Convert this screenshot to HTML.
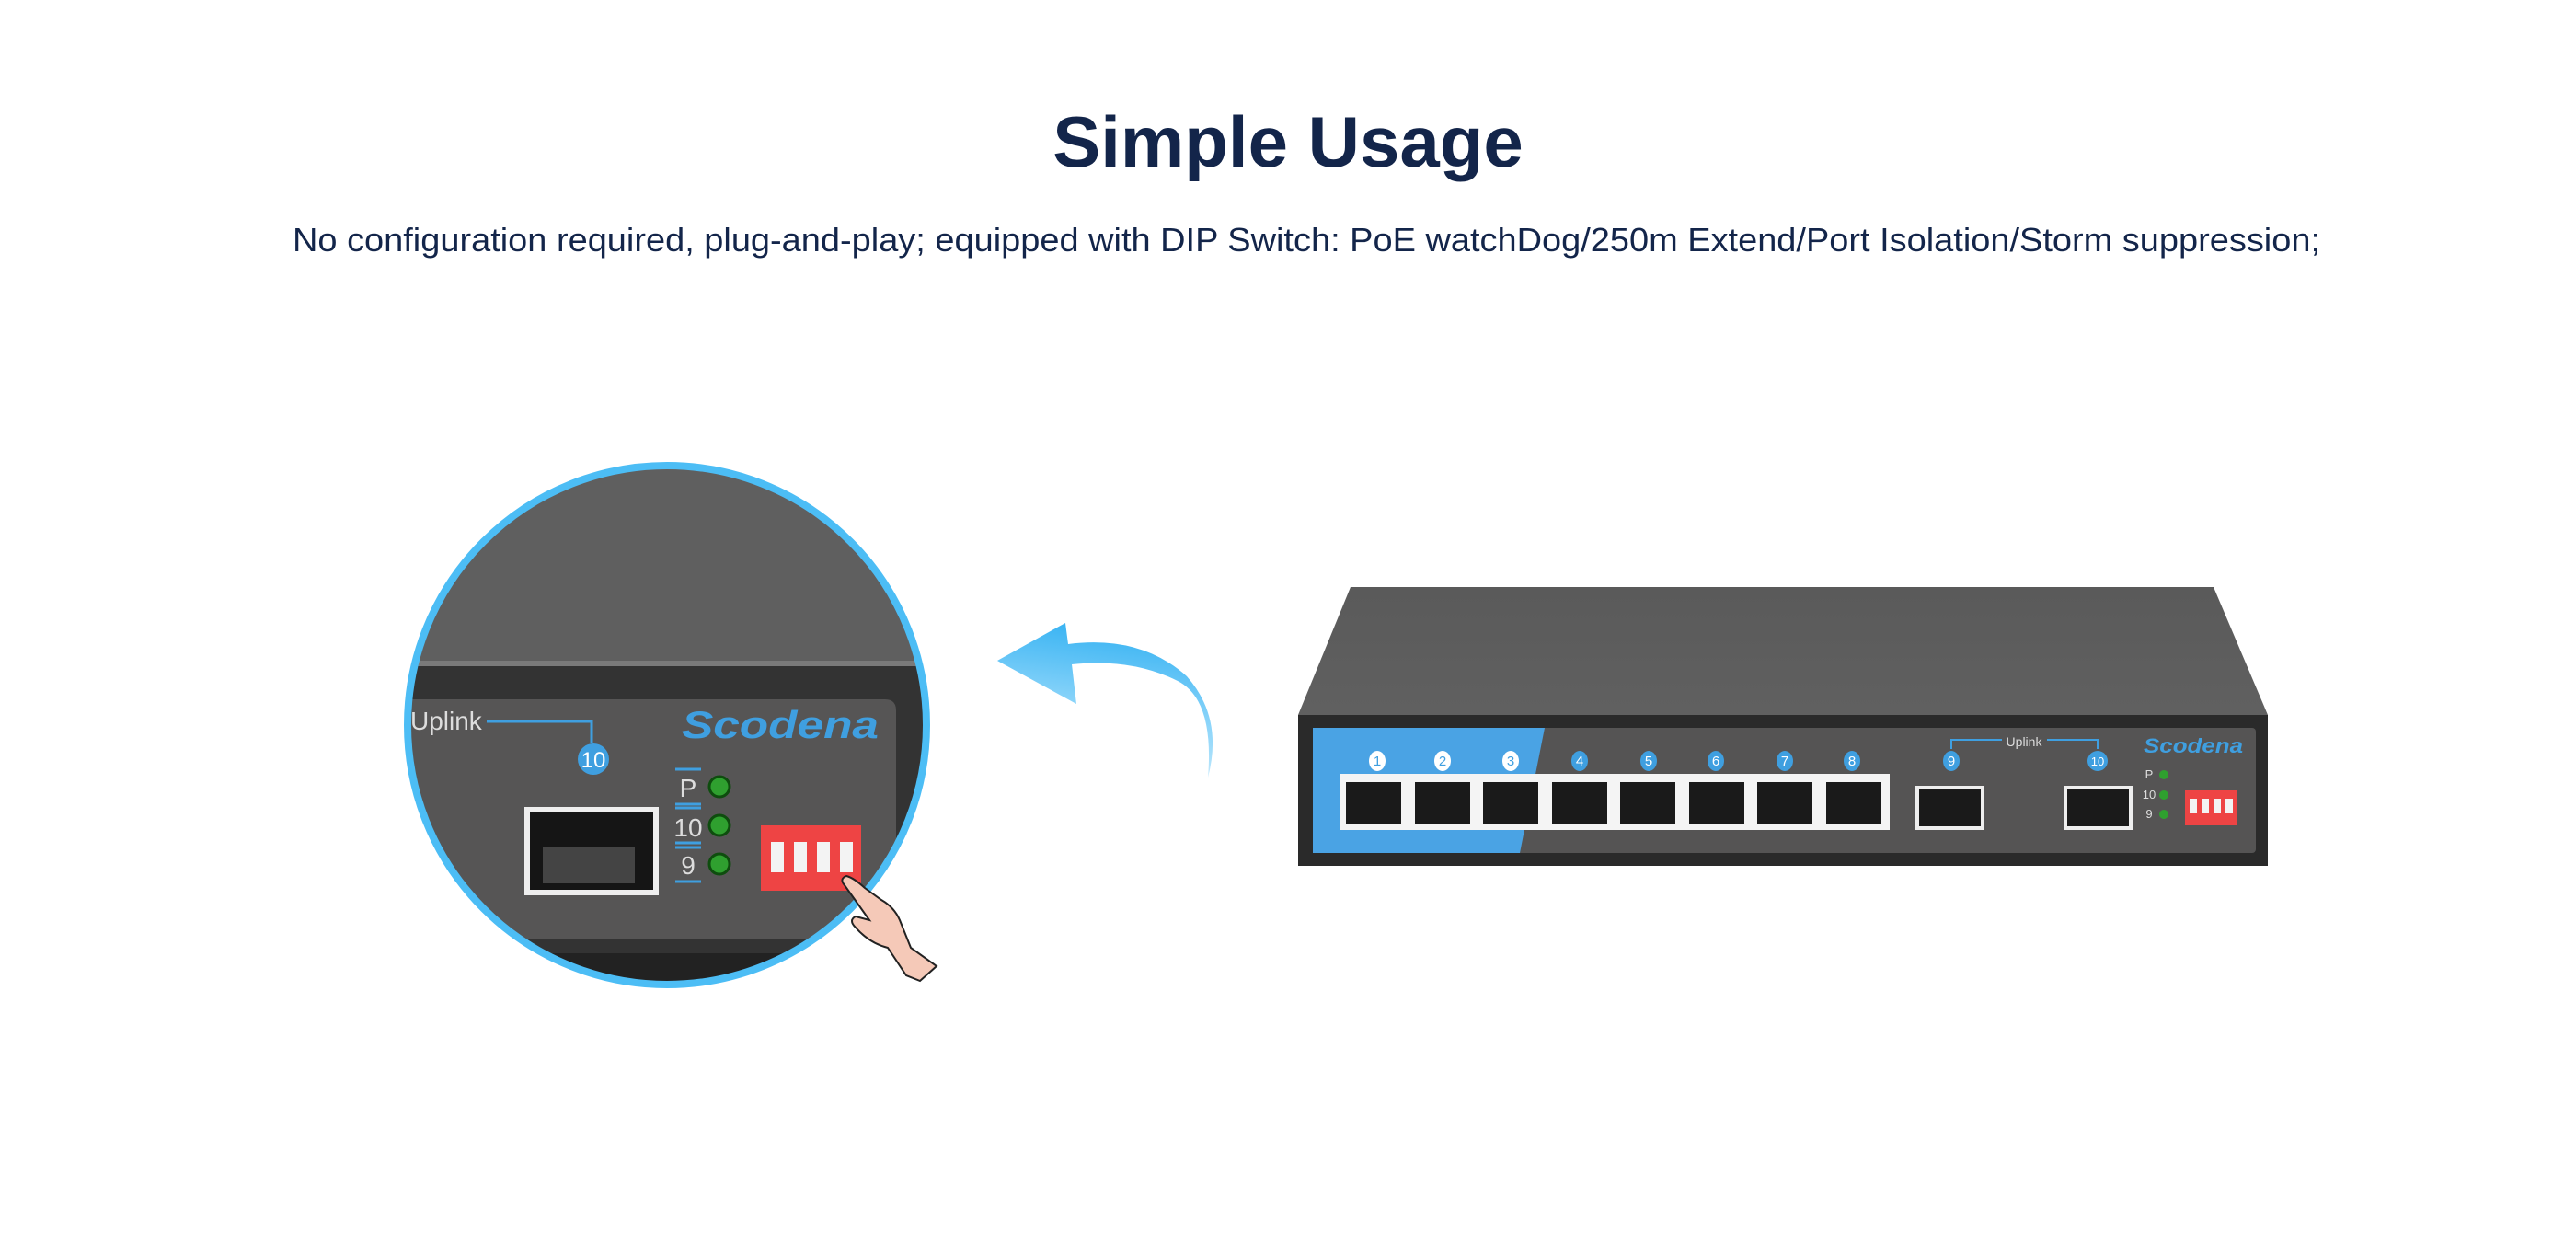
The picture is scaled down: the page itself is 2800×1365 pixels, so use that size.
<!DOCTYPE html>
<html><head><meta charset="utf-8"><style>html,body{margin:0;padding:0;background:#fff;width:2800px;height:1365px;overflow:hidden}</style></head>
<body>
<svg width="2800" height="1365" viewBox="0 0 2800 1365" xmlns="http://www.w3.org/2000/svg" font-family="Liberation Sans, sans-serif">
<defs>
<clipPath id="cc"><circle cx="725" cy="788" r="282"/></clipPath>
<linearGradient id="ag" x1="0" y1="1" x2="0.2" y2="0"><stop offset="0" stop-color="#4cbdf5" stop-opacity="0"/><stop offset="0.5" stop-color="#8fd6fa"/><stop offset="1" stop-color="#3db5f3"/></linearGradient>
<linearGradient id="top" x1="0" y1="0" x2="0" y2="1"><stop offset="0" stop-color="#5a5a5a"/><stop offset="1" stop-color="#606060"/></linearGradient>
</defs>
<text x="1400" y="181" text-anchor="middle" font-size="78" font-weight="bold" fill="#13254a">Simple Usage</text>
<text x="1420" y="273" text-anchor="middle" font-size="36" fill="#13254a" textLength="2204" lengthAdjust="spacingAndGlyphs">No configuration required, plug-and-play; equipped with DIP Switch: PoE watchDog/250m Extend/Port Isolation/Storm suppression;</text>

<g clip-path="url(#cc)">
<rect x="430" y="500" width="600" height="600" fill="#5f5f5f"/>
<rect x="430" y="718" width="600" height="6" fill="#7a7a7a"/>
<rect x="430" y="724" width="600" height="330" fill="#333"/>
<path d="M430 760 H962 Q974 760 974 772 V1020 H430 Z" fill="#565555"/>
<rect x="430" y="1036" width="600" height="40" fill="#222"/>
<text x="446" y="793" font-size="28" fill="#ddd">Uplink</text>
<path d="M529 784 H643 V808" stroke="#3f9fe0" stroke-width="3" fill="none"/>
<circle cx="645" cy="825" r="17" fill="#3f9fe0"/>
<text x="645" y="834" text-anchor="middle" font-size="24" fill="#fff">10</text>
<text x="848" y="802" text-anchor="middle" font-size="42" font-weight="bold" font-style="italic" fill="#3f9fe0" textLength="214" lengthAdjust="spacingAndGlyphs">Scodena</text>
<rect x="570" y="877" width="146" height="96" fill="#eee"/>
<rect x="576" y="883" width="134" height="84" fill="#151515"/>
<rect x="590" y="920" width="100" height="40" fill="#444"/>
<g font-size="28" fill="#ddd" text-anchor="middle">
<text x="748" y="866">P</text><text x="748" y="909">10</text><text x="748" y="950">9</text></g>
<g stroke="#3f9fe0" stroke-width="3">
<line x1="734" y1="836" x2="762" y2="836"/><line x1="734" y1="874" x2="762" y2="874"/><line x1="734" y1="878" x2="762" y2="878"/><line x1="734" y1="916" x2="762" y2="916"/><line x1="734" y1="921" x2="762" y2="921"/><line x1="734" y1="958" x2="762" y2="958"/></g>
<g fill="#2fa02f" stroke="#0e4d0e" stroke-width="3"><circle cx="782" cy="855" r="11"/><circle cx="782" cy="897" r="11"/><circle cx="782" cy="939" r="11"/></g>
<rect x="827" y="897" width="109" height="71" fill="#ee4444"/>
<g fill="#f3f3f3"><rect x="838" y="915" width="14" height="33"/><rect x="863" y="915" width="14" height="33"/><rect x="888" y="915" width="14" height="33"/><rect x="913" y="915" width="14" height="33"/></g>
</g>
<circle cx="725" cy="788" r="282" fill="none" stroke="#4cbdf5" stroke-width="8"/>
<path d="M918 962 Q912 955 920 952 Q928 954 940 965 L958 978 Q972 986 978 1000 L990 1030 L1018 1050 L1000 1066 L985 1060 L965 1030 Q945 1025 930 1008 Q922 1000 930 996 L945 1000 Z" fill="#f5c9b8" stroke="#222" stroke-width="2"/>

<path d="M1313 845 Q1320 760 1280 740 Q1230 715 1165 722 L1170 765 L1084 718 L1158 677 L1161 700 Q1240 690 1290 735 Q1330 780 1313 845 Z" fill="url(#ag)"/>

<path d="M1468 638 H2406 L2465 777 H1411 Z" fill="url(#top)"/>
<rect x="1411" y="777" width="1054" height="164" fill="#2a2a2a"/>
<rect x="1427" y="791" width="1025" height="136" rx="4" fill="#555454"/>
<path d="M1427 791 H1679 L1652 927 H1427 Z" fill="#4aa3e4"/>
<rect x="1456" y="841" width="598" height="61" fill="#f4f4f4"/>
<g fill="#1a1a1a">
<rect x="1463" y="850" width="60" height="46"/><rect x="1538" y="850" width="60" height="46"/><rect x="1612" y="850" width="60" height="46"/><rect x="1687" y="850" width="60" height="46"/><rect x="1761" y="850" width="60" height="46"/><rect x="1836" y="850" width="60" height="46"/><rect x="1910" y="850" width="60" height="46"/><rect x="1985" y="850" width="60" height="46"/></g>
<g font-size="15" text-anchor="middle">
<g fill="#fff"><ellipse cx="1497" cy="827" rx="9" ry="11"/><ellipse cx="1568" cy="827" rx="9" ry="11"/><ellipse cx="1642" cy="827" rx="9" ry="11"/></g>
<g fill="#3f9fe0"><ellipse cx="1717" cy="827" rx="9" ry="11"/><ellipse cx="1792" cy="827" rx="9" ry="11"/><ellipse cx="1865" cy="827" rx="9" ry="11"/><ellipse cx="1940" cy="827" rx="9" ry="11"/><ellipse cx="2013" cy="827" rx="9" ry="11"/><ellipse cx="2121" cy="827" rx="9" ry="11"/><ellipse cx="2280" cy="827" rx="11" ry="11"/></g>
<g fill="#3f9fe0"><text x="1497" y="832">1</text><text x="1568" y="832">2</text><text x="1642" y="832">3</text></g>
<g fill="#fff"><text x="1717" y="832">4</text><text x="1792" y="832">5</text><text x="1865" y="832">6</text><text x="1940" y="832">7</text><text x="2013" y="832">8</text><text x="2121" y="832">9</text><text x="2280" y="832" font-size="13">10</text></g>
</g>
<path d="M2121 814 V804 H2176 M2225 804 H2280 V814" stroke="#3f9fe0" stroke-width="2" fill="none"/>
<text x="2200" y="811" text-anchor="middle" font-size="14" fill="#ddd">Uplink</text>
<rect x="2082" y="854" width="75" height="48" fill="#eee"/><rect x="2086" y="858" width="67" height="40" fill="#1a1a1a"/>
<rect x="2243" y="854" width="75" height="48" fill="#eee"/><rect x="2247" y="858" width="67" height="40" fill="#1a1a1a"/>
<text x="2384" y="818" text-anchor="middle" font-size="22" font-weight="bold" font-style="italic" fill="#3f9fe0" textLength="108" lengthAdjust="spacingAndGlyphs">Scodena</text>
<g font-size="13" fill="#ddd" text-anchor="middle"><text x="2336" y="846">P</text><text x="2336" y="868">10</text><text x="2336" y="889">9</text></g>
<g fill="#2fa02f"><circle cx="2352" cy="842" r="5"/><circle cx="2352" cy="864" r="5"/><circle cx="2352" cy="885" r="5"/></g>
<rect x="2375" y="859" width="56" height="38" fill="#ee4444"/>
<g fill="#f3f3f3"><rect x="2380" y="868" width="8" height="16"/><rect x="2393" y="868" width="8" height="16"/><rect x="2406" y="868" width="8" height="16"/><rect x="2419" y="868" width="8" height="16"/></g>
</svg>
</body></html>
